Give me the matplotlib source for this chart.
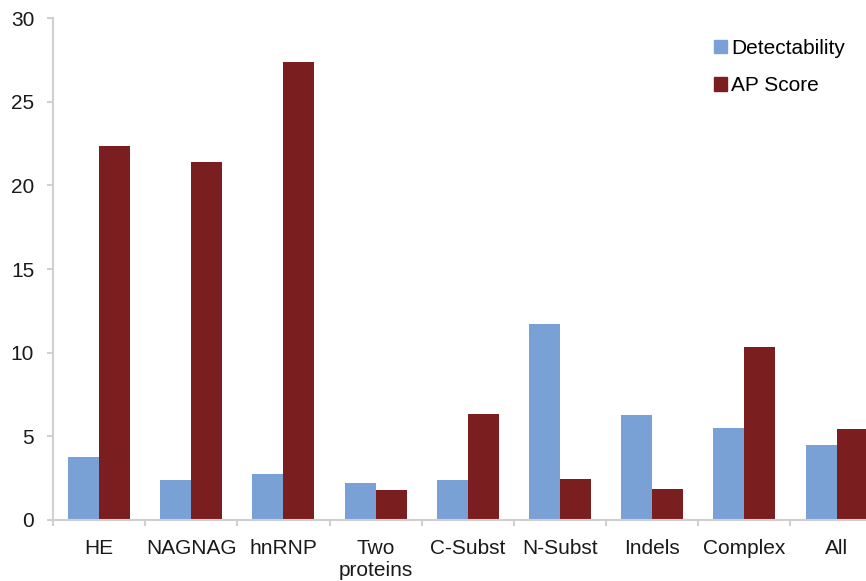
import matplotlib

matplotlib.use("Agg")
import matplotlib.pyplot as plt
import numpy as np
from matplotlib.patches import Patch

plt.rcParams["font.family"] = ["Liberation Sans", "DejaVu Sans"]

categories = ["HE", "NAGNAG", "hnRNP", "Two\nproteins", "C-Subst",
              "N-Subst", "Indels", "Complex", "All"]
detectability = [3.78, 2.37, 2.73, 2.23, 2.41, 11.73, 6.26, 5.52, 4.46]
ap_score = [22.34, 21.38, 27.4, 1.81, 6.34, 2.45, 1.87, 10.34, 5.46]
series_names = ["Detectability", "AP Score"]

BLUE = "#7aa1d6"
RED = "#7b1e20"
AXIS_GREY = "#d0d0d0"
TEXT = "#1a1a1a"

fig = plt.figure(figsize=(8.66, 5.81), dpi=100)
ax = fig.add_axes([0.0612, 0.105, 0.958, 0.864])

x = np.arange(len(categories))
width = 0.336
ax.bar(x - width / 2, detectability, width, color=BLUE, linewidth=0)
ax.bar(x + width / 2, ap_score, width, color=RED, linewidth=0)

ax.set_xlim(-0.5, len(categories) - 0.5)
ax.set_ylim(0, 30)
ax.set_yticks(np.arange(0, 31, 5))

# category labels sit between boundary ticks, Excel style
ax.set_xticks(x)
ax.set_xticklabels(categories, fontsize=15, color=TEXT)
ax.set_xticks(np.arange(-0.5, len(categories), 1.0), minor=True)
ax.tick_params(axis="x", which="major", length=0, pad=14)
ax.tick_params(axis="x", which="minor", length=4.5, width=1.5,
               color=AXIS_GREY, direction="out")
ax.tick_params(axis="y", length=4.5, width=1.5, color=AXIS_GREY,
               labelsize=15, labelcolor=TEXT, pad=9)

for side in ("top", "right"):
    ax.spines[side].set_visible(False)
for side in ("left", "bottom"):
    ax.spines[side].set_color(AXIS_GREY)
    ax.spines[side].set_linewidth(1.5)

handles = [Patch(color=BLUE), Patch(color=RED)]
fig.legend(handles, series_names, loc="upper left",
           bbox_to_anchor=(0.815, 0.948), frameon=False, fontsize=15,
           handlelength=0.6, handleheight=0.6, handletextpad=0.2,
           labelspacing=0.9, borderaxespad=0)

fig.savefig("out.png", dpi=100)
